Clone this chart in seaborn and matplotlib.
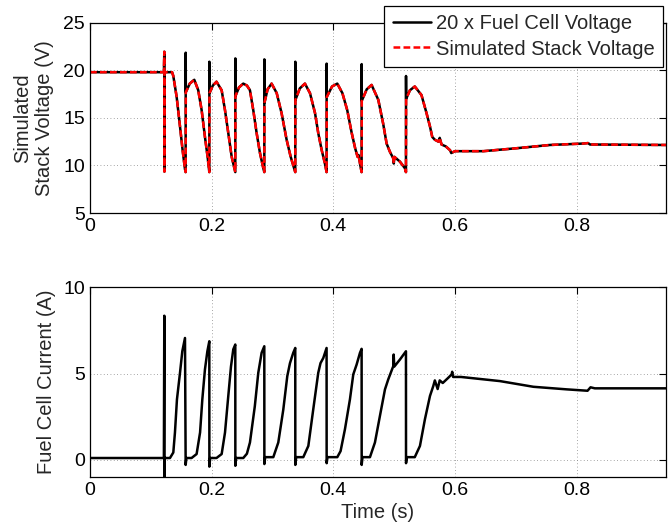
import numpy as np
import pandas as pd
import seaborn as sns
import matplotlib
matplotlib.use("Agg")
import matplotlib.pyplot as plt

# measured voltage (20 x single cell), black trace
t_meas = [0.0, 0.1215, 0.1222, 0.1224, 0.1226, 0.135, 0.137, 0.1425, 0.148, 0.1523, 0.1562,
          0.1573, 0.1574, 0.1576, 0.164, 0.1715, 0.178, 0.1836, 0.189, 0.1934,
          0.1962, 0.1963, 0.1965, 0.202, 0.208, 0.2165, 0.222, 0.2274, 0.233,
          0.2389, 0.239, 0.2392, 0.245, 0.252, 0.258, 0.263, 0.2685, 0.274, 0.2795, 0.285,
          0.2866, 0.2867, 0.2869, 0.292, 0.2986, 0.307, 0.315, 0.3233, 0.330,
          0.3375, 0.3376, 0.3378, 0.345, 0.3534, 0.3617, 0.370, 0.3753, 0.381, 0.3863,
          0.389, 0.3891, 0.3893, 0.398, 0.4066, 0.415, 0.423, 0.430, 0.436, 0.440, 0.4415, 0.4445,
          0.4466, 0.4467, 0.4469, 0.455, 0.463, 0.474, 0.482, 0.4877, 0.493, 0.4986, 0.4995, 0.5005,
          0.5096, 0.5178, 0.5195, 0.5196, 0.5198, 0.526, 0.534, 0.545, 0.5533, 0.559, 0.5627,
          0.567, 0.573, 0.575, 0.578, 0.585, 0.592, 0.594, 0.600, 0.647, 0.700, 0.756, 0.811,
          0.819, 0.822, 0.947]
v_meas = [19.8, 19.8, 21.95, 9.35, 19.8, 19.8, 19.4, 17.2, 14.1, 11.6, 9.6,
          9.3, 21.85, 17.7, 18.6, 19.0, 17.9, 15.8, 13.0, 10.9,
          9.3, 20.9, 17.6, 18.4, 18.8, 17.9, 15.8, 13.4, 10.9,
          9.3, 21.25, 17.3, 18.2, 18.6, 18.4, 17.9, 15.8, 13.4, 11.3, 9.7,
          9.3, 21.15, 16.6, 18.0, 18.6, 17.6, 15.5, 12.7, 10.9,
          9.3, 20.9, 16.9, 18.1, 18.6, 17.6, 15.5, 13.4, 11.6, 10.2,
          9.3, 20.7, 17.2, 18.3, 18.6, 17.6, 15.8, 13.5, 11.8, 10.9, 11.1, 10.0,
          9.3, 20.65, 16.8, 18.0, 18.46, 16.9, 14.4, 12.3, 11.45, 10.75, 10.2, 10.9,
          10.4, 9.7, 9.3, 19.4, 17.0, 17.9, 18.3, 17.4, 15.5, 14.1, 13.0,
          12.7, 12.5, 12.9, 12.2, 12.0, 11.6, 11.3, 11.5, 11.5, 11.8, 12.15, 12.3,
          12.35, 12.2, 12.15]

# simulated stack voltage, red dashed trace
t_sim = [0.0, 0.1215, 0.1222, 0.1224, 0.1226, 0.135, 0.137, 0.1425, 0.148, 0.1523, 0.1562,
         0.1573, 0.1576, 0.164, 0.1715, 0.178, 0.1836, 0.189, 0.1934,
         0.1962, 0.1965, 0.202, 0.208, 0.2165, 0.222, 0.2274, 0.233,
         0.2389, 0.2392, 0.245, 0.252, 0.258, 0.263, 0.2685, 0.274, 0.2795, 0.285,
         0.2866, 0.2869, 0.292, 0.2986, 0.307, 0.315, 0.3233, 0.330,
         0.3375, 0.3378, 0.345, 0.3534, 0.3617, 0.370, 0.3753, 0.381, 0.3863,
         0.389, 0.3893, 0.398, 0.4066, 0.415, 0.423, 0.430, 0.436, 0.440, 0.4415, 0.4445,
         0.4466, 0.4469, 0.455, 0.463, 0.474, 0.482, 0.4877, 0.493, 0.4986, 0.4995, 0.5005,
         0.5096, 0.5178, 0.5195, 0.5198, 0.526, 0.534, 0.545, 0.5533, 0.559, 0.5627,
         0.567, 0.573, 0.575, 0.578, 0.585, 0.592, 0.594, 0.600, 0.647, 0.700, 0.756, 0.811,
         0.819, 0.822, 0.947]
v_sim = [19.8, 19.8, 21.95, 9.35, 19.8, 19.8, 19.4, 17.2, 14.1, 11.6, 9.6,
         9.3, 17.7, 18.6, 19.0, 17.9, 15.8, 13.0, 10.9,
         9.3, 17.6, 18.4, 18.8, 17.9, 15.8, 13.4, 10.9,
         9.3, 17.3, 18.2, 18.6, 18.4, 17.9, 15.8, 13.4, 11.3, 9.7,
         9.3, 16.6, 18.0, 18.6, 17.6, 15.5, 12.7, 10.9,
         9.3, 16.9, 18.1, 18.6, 17.6, 15.5, 13.4, 11.6, 10.2,
         9.3, 17.2, 18.3, 18.6, 17.6, 15.8, 13.5, 11.8, 10.9, 11.1, 10.0,
         9.3, 16.8, 18.0, 18.46, 16.9, 14.4, 12.3, 11.45, 10.75, 10.2, 10.9,
         10.4, 9.7, 9.3, 17.0, 17.9, 18.3, 17.4, 15.5, 14.1, 13.0,
         12.7, 12.5, 12.9, 12.2, 12.0, 11.6, 11.3, 11.5, 11.5, 11.8, 12.15, 12.3,
         12.35, 12.2, 12.15]

# fuel cell current
t_cur = [0.0, 0.1215, 0.1222, 0.1224, 0.1226, 0.1315, 0.137, 0.1397, 0.143, 0.148, 0.1518, 0.1562,
         0.1573, 0.1585, 0.167, 0.1753, 0.181, 0.1847, 0.189, 0.193, 0.1962,
         0.1963, 0.1975, 0.208, 0.2165, 0.222, 0.2274, 0.2318, 0.2356, 0.2389,
         0.239, 0.2402, 0.252, 0.258, 0.263, 0.271, 0.2767, 0.2822, 0.2866,
         0.2867, 0.288, 0.3014, 0.3096, 0.3178, 0.3244, 0.3288, 0.3342, 0.3375,
         0.3376, 0.339, 0.3507, 0.359, 0.367, 0.3753, 0.379, 0.3836, 0.389,
         0.3891, 0.3905, 0.4066, 0.412, 0.4192, 0.4274, 0.4329, 0.4384, 0.4439, 0.4466,
         0.4467, 0.448, 0.4603, 0.4685, 0.4767, 0.485, 0.4904, 0.4986, 0.4993, 0.5003, 0.5096, 0.5195,
         0.5196, 0.521, 0.534, 0.5425, 0.5507, 0.559, 0.5644, 0.567, 0.5716, 0.575, 0.580, 0.589,
         0.5946, 0.5955, 0.597, 0.610, 0.674, 0.729, 0.784, 0.818, 0.823, 0.830, 0.947]
i_cur = [0.1, 0.1, 8.35, -1.2, 0.1, 0.1, 0.42, 1.58, 3.5, 5.04, 6.29, 7.06,
         -0.3, 0.1, 0.1, 0.33, 1.58, 3.5, 5.23, 6.29, 6.87,
         -0.4, 0.1, 0.1, 0.33, 1.58, 3.7, 5.4, 6.4, 6.68,
         -0.35, 0.1, 0.1, 0.35, 1.0, 3.1, 5.04, 6.2, 6.58,
         -0.25, 0.15, 0.15, 1.0, 2.9, 4.85, 5.6, 6.2, 6.48,
         -0.3, 0.15, 0.15, 0.8, 2.9, 5.04, 5.6, 5.9, 6.48,
         -0.2, 0.15, 0.15, 0.5, 1.77, 3.5, 4.95, 5.52, 6.2, 6.43,
         -0.3, 0.15, 0.15, 1.0, 2.54, 4.08, 4.66, 5.42, 6.1, 5.4, 5.81, 6.29,
         -0.2, 0.15, 0.15, 0.8, 2.35, 3.7, 4.27, 4.6, 4.1, 4.6, 4.45, 4.75,
         4.95, 5.1, 4.8, 4.8, 4.56, 4.23, 4.08, 4.0, 4.2, 4.14, 4.14]

sns.set_theme(style="white")
plt.rcParams["font.family"] = ["Liberation Sans", "DejaVu Sans"]

fig = plt.figure(figsize=(6.7, 5.27), dpi=100)
ax1 = fig.add_axes([0.1343, 0.5958, 0.8597, 0.3611])
ax2 = fig.add_axes([0.1343, 0.0949, 0.8597, 0.3600])

lw = 1.8
sns.lineplot(x=t_meas, y=v_meas, sort=False, estimator=None, color="black",
             linewidth=lw, label="20 x Fuel Cell Voltage", ax=ax1)
sns.lineplot(x=t_sim, y=v_sim, sort=False, estimator=None, color="red",
             linewidth=lw, linestyle=(0, (2.7, 1.3)), label="Simulated Stack Voltage", ax=ax1)
sns.lineplot(x=t_cur, y=i_cur, sort=False, estimator=None, color="black",
             linewidth=lw, ax=ax2)

for ax in (ax1, ax2):
    ax.set_xlim(0, 0.947)
    ax.set_xticks([0, 0.2, 0.4, 0.6, 0.8])
    ax.set_xticklabels(["0", "0.2", "0.4", "0.6", "0.8"])
    ax.grid(True, color="#888888", linestyle=(0, (1, 3)), linewidth=0.6)
    ax.tick_params(direction="in", length=5, width=0.8, top=True, right=True,
                   labelsize=14, colors="black", pad=3.6)
    for s in ax.spines.values():
        s.set_color("black")
        s.set_linewidth(0.9)

ax1.set_ylim(5, 25)
ax1.set_yticks([5, 10, 15, 20, 25])
ax1.set_ylabel("Simulated\nStack Voltage (V)", fontsize=14.5, labelpad=7, linespacing=1.15)
ax1.set_xlabel("")

ax2.set_ylim(-1, 10)
ax2.set_yticks([0, 5, 10])
ax2.set_ylabel("Fuel Cell Current (A)", fontsize=14.5, labelpad=5)
ax2.set_xlabel("Time (s)", fontsize=14.5, labelpad=3)

leg = ax1.legend(loc="upper right", bbox_to_anchor=(0.9953, 1.0877), borderaxespad=0,
                 fontsize=14.5, handlelength=1.9, handletextpad=0.25, borderpad=0.42,
                 labelspacing=0.3, fancybox=False, framealpha=1, edgecolor="black")
leg.get_frame().set_linewidth(0.9)

fig.savefig("out.png", dpi=100)
